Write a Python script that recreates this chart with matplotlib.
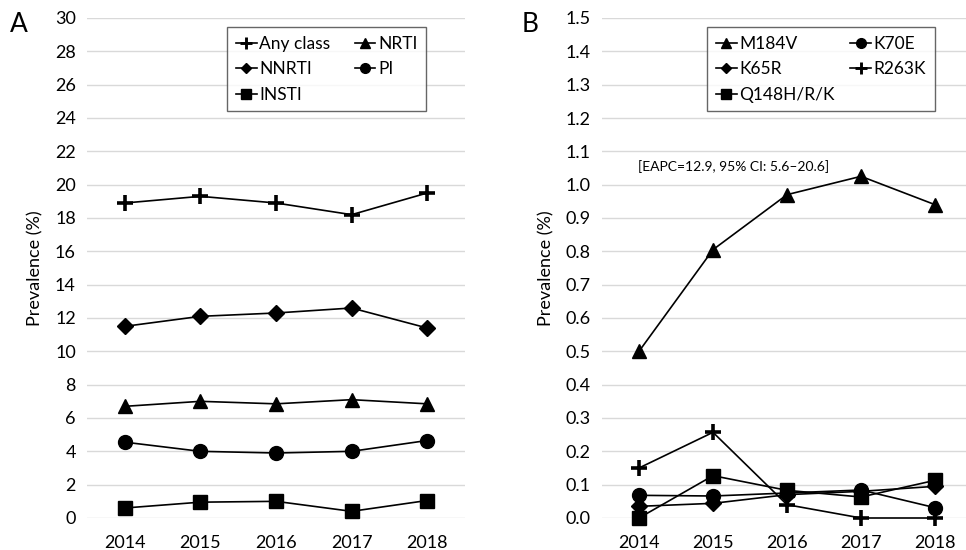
import matplotlib
matplotlib.use("Agg")
import matplotlib.pyplot as plt
from matplotlib.lines import Line2D

plt.rcParams['font.family'] = ['Lato', 'DejaVu Sans']

years = ["2014", "2015", "2016", "2017", "2018"]

# Panel A
any_class = [18.9, 19.3, 18.9, 18.2, 19.5]
nrti = [6.7, 7.0, 6.85, 7.1, 6.85]
nnrti = [11.5, 12.1, 12.3, 12.6, 11.4]
pi = [4.55, 4.0, 3.9, 4.0, 4.65]
insti = [0.6, 0.95, 1.0, 0.4, 1.05]

# Panel B
m184v = [0.5, 0.805, 0.97, 1.025, 0.94]
k70e = [0.068, 0.066, 0.075, 0.084, 0.031]
k65r = [0.035, 0.044, 0.07, 0.08, 0.095]
r263k = [0.15, 0.257, 0.04, 0.0, 0.0]
q148 = [0.0, 0.127, 0.083, 0.063, 0.113]

W, H = 966, 550
fig = plt.figure(figsize=(W / 100, H / 100), dpi=100)

def px_axes(x0, x1, ytop, ybot):
    return fig.add_axes([x0 / W, 1 - ybot / H, (x1 - x0) / W, (ybot - ytop) / H])

axA = px_axes(87, 465, 18, 518)
axB = px_axes(602, 972, 18, 518)

grid_c = '#d9d9d9'
x = list(range(len(years)))

def style(ax, ylim, yticks, fmt):
    ax.set_xlim(-0.5, 4.5)
    ax.set_ylim(*ylim)
    ax.set_yticks(yticks)
    ax.set_yticklabels([fmt(v) for v in yticks])
    ax.set_xticks(x)
    ax.set_xticklabels(years)
    for s in ax.spines.values():
        s.set_visible(False)
    ax.grid(axis='y', color=grid_c, linewidth=1.0)
    ax.set_axisbelow(True)
    ax.tick_params(axis='both', length=0, labelsize=13, pad=8)
    ax.tick_params(axis='x', pad=12)
    ax.set_ylabel('Prevalence (%)', fontsize=13, labelpad=8)

MK = {'P': ('+', 12, 2.6), '^': ('^', 10, 1.0), 'D': ('D', 8, 1.0),
      'o': ('o', 10, 1.0), 's': ('s', 10, 1.0)}

def series(ax, vals, key, label):
    m, ms, mew = MK[key]
    ax.plot(x, vals, color='black', linewidth=1.2, marker=m, markersize=ms,
            markerfacecolor='black', markeredgecolor='black', markeredgewidth=mew,
            label=label, clip_on=False, zorder=3)

# Panel A
style(axA, (0, 30), list(range(0, 31, 2)), lambda v: f"{v:d}")
series(axA, any_class, 'P', 'Any class')
series(axA, nrti, '^', 'NRTI')
series(axA, nnrti, 'D', 'NNRTI')
series(axA, pi, 'o', 'PI')
series(axA, insti, 's', 'INSTI')

# Panel B
yb = [i / 10 for i in range(0, 16)]
style(axB, (0, 1.5), yb, lambda v: f"{v:.1f}")
series(axB, m184v, '^', 'M184V')
series(axB, k70e, 'o', 'K70E')
series(axB, k65r, 'D', 'K65R')
series(axB, r263k, 'P', 'R263K')
series(axB, q148, 's', 'Q148H/R/K')

axB.text(-0.02, 1.055, '[EAPC=12.9, 95% CI: 5.6\u201320.6]', fontsize=10,
         ha='left', va='center', transform=axB.transData)

def lhandle(key):
    m, ms, mew = MK[key]
    scale = 0.7
    return Line2D([0], [0], color='black', linewidth=1.2, marker=m, markersize=ms * scale,
                  markerfacecolor='black', markeredgecolor='black',
                  markeredgewidth=mew * (0.8 if m == '+' else 1.0))

def legend(ax, items, x0, y0, colsp):
    handles = [lhandle(k) for k, _ in items]
    labels = [l for _, l in items]
    leg = ax.legend(handles, labels, ncol=2, loc='upper left',
                    bbox_to_anchor=(x0 / W, 1 - y0 / H),
                    bbox_transform=fig.transFigure,
                    frameon=True, fancybox=False, edgecolor='#404040', fontsize=12.5,
                    handlelength=1.2, handletextpad=0.15, columnspacing=colsp,
                    labelspacing=0.55, borderpad=0.5, borderaxespad=0.0)
    leg.get_frame().set_linewidth(1.0)
    return leg

# column-major for ncol=2: col1 = items 0..2, col2 = items 3..4
legend(axA, [('P', 'Any class'), ('D', 'NNRTI'), ('s', 'INSTI'),
             ('^', 'NRTI'), ('o', 'PI')], 227, 27, 1.4)
legend(axB, [('^', 'M184V'), ('D', 'K65R'), ('s', 'Q148H/R/K'),
             ('o', 'K70E'), ('P', 'R263K')], 707, 27, 0.9)

fig.text(10 / W, 1 - 25 / H, 'A', fontsize=19, ha='left', va='center')
fig.text(522 / W, 1 - 25 / H, 'B', fontsize=19, ha='left', va='center')

fig.savefig('out.png', dpi=100)
